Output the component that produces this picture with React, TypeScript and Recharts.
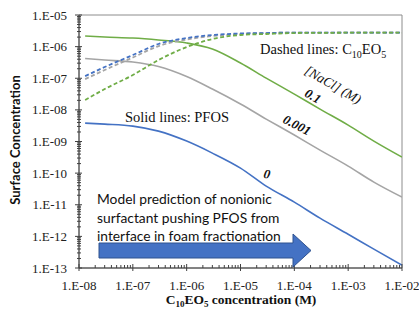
import React from "react";
import { LineChart, Line, XAxis, YAxis, ReferenceArea } from "recharts";

// C10EO5 concentration (M)
const conc = [1.3e-8, 3e-8, 1e-7, 3e-7, 1e-6, 3e-6, 1e-5, 3e-5, 1e-4, 3e-4, 1e-3, 3e-3, 1e-2];

// PFOS surface concentration (solid lines), by [NaCl]
const pfosNaCl0 = [3.82e-9, 3.55e-9, 3.07e-9, 2.13e-9, 1.03e-9, 4.3e-10, 1.44e-10, 3.88e-11, 1.21e-11, 3.77e-12, 1.17e-12, 3.94e-13, 1.23e-13];
const pfosNaCl0001 = [4.2e-7, 3.77e-7, 3.26e-7, 2.34e-7, 1.13e-7, 4.55e-8, 1.53e-8, 5.12e-9, 1.6e-9, 5.35e-10, 1.67e-10, 5.19e-11, 1.74e-11];
const pfosNaCl01 = [2.16e-6, 2.01e-6, 1.87e-6, 1.62e-6, 1.3e-6, 8.4e-7, 3.03e-7, 1.01e-7, 3.16e-8, 1.06e-8, 3.3e-9, 1.03e-9, 3.21e-10];

// C10EO5 surface concentration (dashed lines), by [NaCl]
const c10NaCl0 = [1.17e-7, 2.26e-7, 5.42e-7, 1.21e-6, 1.87e-6, 2.33e-6, 2.6e-6, 2.69e-6, 2.79e-6, 2.79e-6, 2.79e-6, 2.79e-6, 2.79e-6];
const c10NaCl0001 = [9.4e-8, 1.82e-7, 4.52e-7, 1.04e-6, 1.68e-6, 2.16e-6, 2.51e-6, 2.69e-6, 2.79e-6, 2.79e-6, 2.79e-6, 2.79e-6, 2.79e-6];
const c10NaCl01 = [2.04e-8, 4.55e-8, 1.26e-7, 3.77e-7, 9.7e-7, 1.74e-6, 2.33e-6, 2.51e-6, 2.69e-6, 2.72e-6, 2.76e-6, 2.78e-6, 2.79e-6];

const xMajor = [1e-8, 1e-7, 1e-6, 1e-5, 1e-4, 1e-3, 1e-2];
const yMajor = [1e-13, 1e-12, 1e-11, 1e-10, 1e-9, 1e-8, 1e-7, 1e-6, 1e-5];
const xLabels = ["1.E-08", "1.E-07", "1.E-06", "1.E-05", "1.E-04", "1.E-03", "1.E-02"];
const yLabels = ["1.E-13", "1.E-12", "1.E-11", "1.E-10", "1.E-09", "1.E-08", "1.E-07", "1.E-06", "1.E-05"];

const data = conc.map((x, i) => ({
  x,
  p0: pfosNaCl0[i],
  p1: pfosNaCl0001[i],
  p2: pfosNaCl01[i],
  c0: c10NaCl0[i],
  c1: c10NaCl0001[i],
  c2: c10NaCl01[i],
}));

const withMinor = (majors: number[]) => {
  const out: number[] = [];
  majors.forEach((m, i) => {
    out.push(m);
    if (i < majors.length - 1) for (let k = 2; k <= 9; k++) out.push(m * k);
  });
  return out;
};

const BLUE = "#4472C4";
const GRAY = "#A5A5A5";
const GREEN = "#70AD47";
const AXIS = "#404040";
const serif = "'Liberation Serif', 'Times New Roman', serif";
const sans = "Lato, 'Open Sans', sans-serif";
const tickStyle = { fontFamily: serif, fontSize: 13 };

const XTick = (props: any) => {
  const { x, y, payload } = props;
  const idx = xMajor.findIndex((m) => Math.abs(m - payload.value) / m < 1e-6);
  if (idx < 0) {
    return <line x1={x} x2={x} y1={y} y2={y - 3} stroke={AXIS} strokeWidth={1} />;
  }
  return (
    <g>
      <line x1={x} x2={x} y1={y + 3} y2={y - 4} stroke={AXIS} strokeWidth={1} />
      <text x={x} y={y + 17} textAnchor="middle" dominantBaseline="central" style={tickStyle} fill="#222">
        {xLabels[idx]}
      </text>
    </g>
  );
};

const YTick = (props: any) => {
  const { x, y, payload } = props;
  const idx = yMajor.findIndex((m) => Math.abs(m - payload.value) / m < 1e-6);
  if (idx < 0) {
    return <line x1={x - 2} x2={x + 2} y1={y} y2={y} stroke={AXIS} strokeWidth={1} />;
  }
  return (
    <g>
      <line x1={x - 4} x2={x + 3} y1={y} y2={y} stroke={AXIS} strokeWidth={1} />
      <text x={x - 12} y={y} textAnchor="end" dominantBaseline="central" style={tickStyle} fill="#222">
        {yLabels[idx]}
      </text>
    </g>
  );
};

const abs = (extra: React.CSSProperties): React.CSSProperties => ({
  position: "absolute",
  whiteSpace: "nowrap",
  lineHeight: 1,
  ...extra,
});

const centered = (cx: number, cy: number, rot = 0): React.CSSProperties => ({
  left: cx,
  top: cy,
  transform: `translate(-50%, -50%) rotate(${rot}deg)`,
});

export default function App() {
  return (
    <div style={{ position: "absolute", left: 0, top: 0, width: 419, height: 310, background: "#fff" }}>
      <LineChart width={419} height={310} data={data} margin={{ top: 15, right: 17, bottom: 0, left: 0 }}>
        <XAxis
          dataKey="x"
          type="number"
          scale="log"
          domain={[1e-8, 1e-2]}
          allowDataOverflow
          ticks={withMinor(xMajor)}
          interval={0}
          tickSize={0}
          tickMargin={0}
          tickLine={false}
          tick={<XTick />}
          height={42}
          stroke={AXIS}
        />
        <YAxis
          type="number"
          scale="log"
          domain={[1e-13, 1e-5]}
          allowDataOverflow
          ticks={withMinor(yMajor)}
          interval={0}
          tickSize={0}
          tickMargin={0}
          tickLine={false}
          tick={<YTick />}
          width={79}
          stroke={AXIS}
        />
        <ReferenceArea x1={1e-8} x2={1e-2} y1={1e-13} y2={1e-5} fill="none" stroke="#8c8c8c" strokeWidth={1} ifOverflow="visible" />
        <Line dataKey="p0" stroke={BLUE} strokeWidth={1.6} dot={false} type="monotone" isAnimationActive={false} />
        <Line dataKey="p1" stroke={GRAY} strokeWidth={1.6} dot={false} type="monotone" isAnimationActive={false} />
        <Line dataKey="p2" stroke={GREEN} strokeWidth={1.6} dot={false} type="monotone" isAnimationActive={false} />
        <Line dataKey="c1" stroke={GRAY} strokeWidth={1.8} strokeDasharray="4 2.5" dot={false} type="monotone" isAnimationActive={false} />
        <Line dataKey="c0" stroke={BLUE} strokeWidth={1.8} strokeDasharray="4 2.5" dot={false} type="monotone" isAnimationActive={false} />
        <Line dataKey="c2" stroke={GREEN} strokeWidth={1.8} strokeDasharray="4 2.5" dot={false} type="monotone" isAnimationActive={false} />
      </LineChart>

      {/* axis titles */}
      <div style={abs({ ...centered(15, 140, -90), fontFamily: sans, fontWeight: 700, fontSize: 13, color: "#111" })}>
        Surface Concentration
      </div>
      <div style={abs({ ...centered(241, 301), fontFamily: serif, fontWeight: 700, fontSize: 13.5, color: "#111" })}>
        C<sub style={{ fontSize: 9 }}>10</sub>EO<sub style={{ fontSize: 9 }}>5</sub> concentration (M)
      </div>

      {/* in-plot notes */}
      <div style={abs({ left: 125, top: 110, fontFamily: serif, fontSize: 14.5, color: "#111" })}>Solid lines: PFOS</div>
      <div style={abs({ left: 260, top: 42, fontFamily: serif, fontSize: 14.5, color: "#111" })}>
        Dashed lines: C<sub style={{ fontSize: 10 }}>10</sub>EO<sub style={{ fontSize: 10 }}>5</sub>
      </div>
      <div style={abs({ ...centered(333, 85, 30), fontFamily: serif, fontStyle: "italic", fontSize: 13.5, color: "#111" })}>[NaCl] (M)</div>
      <div style={abs({ ...centered(313, 96, 30), fontFamily: serif, fontStyle: "italic", fontWeight: 700, fontSize: 13, color: "#111" })}>0.1</div>
      <div style={abs({ ...centered(297, 125, 27), fontFamily: serif, fontStyle: "italic", fontWeight: 700, fontSize: 13, color: "#111" })}>0.001</div>
      <div style={abs({ ...centered(267, 174, 10), fontFamily: serif, fontStyle: "italic", fontWeight: 700, fontSize: 13, color: "#111" })}>0</div>

      <div style={abs({ left: 97, top: 190, fontFamily: sans, fontSize: 13.8, lineHeight: "18.5px", color: "#111" })}>
        Model prediction of nonionic
        <br />
        surfactant pushing PFOS from
        <br />
        interface in foam fractionation
      </div>

      <svg width={419} height={310} style={{ position: "absolute", left: 0, top: 0, pointerEvents: "none" }}>
        <polygon
          points="99,243 293,243 293,234 311,250.5 293,267 293,258 99,258"
          fill={BLUE}
          stroke="#2F528F"
          strokeWidth={1}
        />
      </svg>
    </div>
  );
}
